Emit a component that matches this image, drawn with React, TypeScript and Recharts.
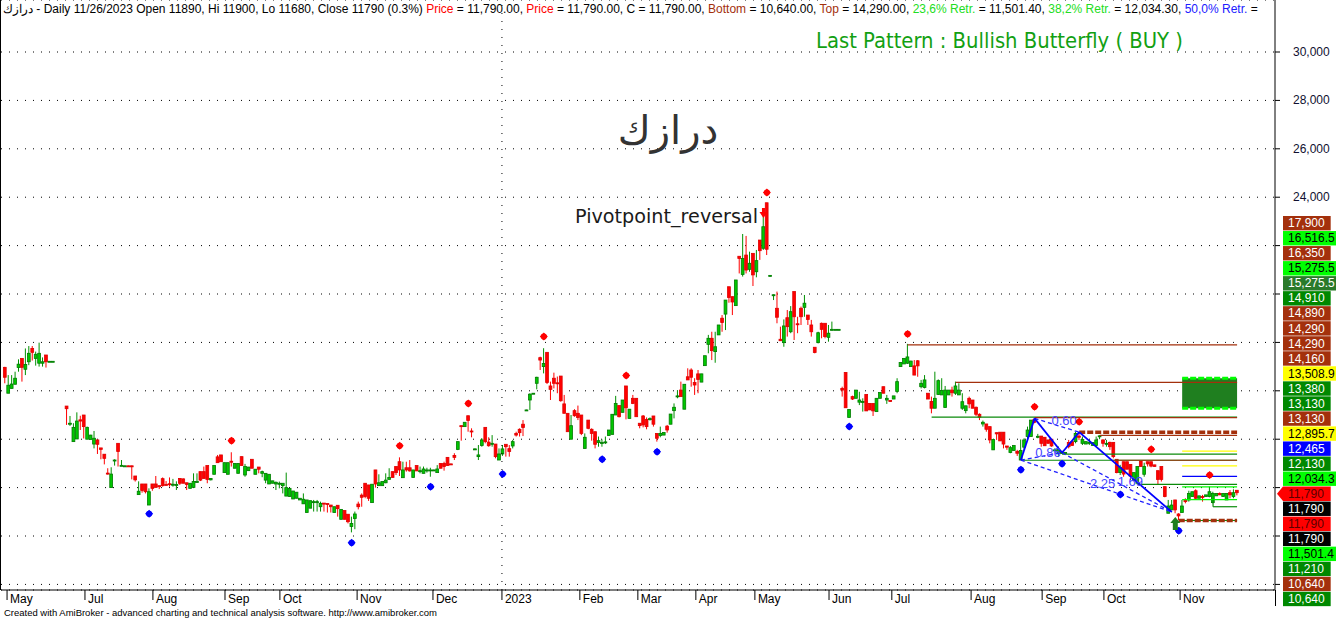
import React from "react";
import {
  ComposedChart,
  Bar,
  Scatter,
  XAxis,
  YAxis,
  CartesianGrid,
  ReferenceLine,
  ReferenceArea,
  ReferenceDot,
} from "recharts";

const W = 1336;
const H = 619;

// daily candles [open, high, low, close]; null = no trading that day
const barsPart1 = [
  [16970, 16990, 16310, 16560], [15900, 16650, 15900, 16230], [16100, 16650, 16100, 16280],
  [16270, 16790, 16270, 16520], [16960, 17300, 16790, 17100], [17340, 17340, 16380, 16970],
  [16890, 17750, 16650, 17090], [17200, 17850, 17060, 17550], [17750, 17850, 17250, 17590],
  [17340, 17620, 17040, 17510], [17140, 17990, 17000, 17550], [17140, 17380, 17000, 17200],
  [17480, 17480, 16960, 17200], [17210, 17230, 17200, 17220], [17210, 17230, 17200, 17220],
  null, null, null,
];

const barsPart2 = [
  [15370, 15370, 14590, 15260], [14620, 14960, 14550, 14660], [13900, 14660, 13900, 14490],
  [14010, 15110, 14010, 14750], [14800, 14970, 14380, 14750], [15000, 15000, 14030, 14520],
  [14000, 14520, 14000, 14490], [13990, 14180, 13990, 14170], [13800, 14340, 13620, 14040],
  [13970, 13970, 13390, 13790], [13640, 13640, 13170, 13580], [13380, 13380, 12960, 13210],
  [12600, 12800, 12540, 12560], [12000, 12840, 12000, 12560], [13110, 13170, 12910, 13140],
  [13830, 13830, 12870, 13490], [12900, 13140, 12900, 12920], [12890, 12910, 12870, 12900],
  [12900, 12910, 12880, 12890], [12900, 12910, 12340, 12880], [12480, 12480, 12250, 12320],
  [11710, 12260, 11710, 11850], [12150, 12150, 11790, 11880], [12150, 12150, 11760, 11830],
  [11280, 11970, 11280, 11830], [12150, 12150, 11870, 11970], [12150, 12480, 12010, 12010],
  [12080, 12080, 11940, 12040], [12370, 12420, 12040, 12080], [12130, 12270, 12110, 12120],
  [12160, 12420, 12040, 12150], [12130, 12360, 12040, 12140], [12110, 12260, 11900, 12130],
  [12380, 12380, 12110, 12180], [12360, 12380, 12180, 12180], [12200, 12200, 11900, 12130],
  [11970, 12180, 11970, 12180], [12010, 12590, 12010, 12250], [12210, 12590, 12210, 12250],
  [12660, 12660, 12270, 12310], [12660, 12870, 12380, 12380], [12910, 12910, 12180, 12340],
  [12320, 12390, 12300, 12380], [12550, 12910, 12550, 12910], [13270, 13350, 13030, 13030],
  [13350, 13350, 13070, 13070], [12620, 13030, 12620, 13030], [12550, 13030, 12550, 13030],
  [13090, 13460, 12870, 13070], [12800, 13000, 12800, 13000], [12590, 13000, 12590, 13000],
  [13280, 13280, 12910, 12910], [12520, 12980, 12450, 12870], [12700, 12850, 12700, 12850],
  [13170, 13170, 12800, 12800], [12550, 12760, 12550, 12760], [12850, 12850, 12590, 12760],
  [12590, 12700, 12430, 12660], [12310, 12590, 12180, 12590], [12150, 12550, 12150, 12550],
  [12180, 12280, 12180, 12280], [12150, 12250, 11900, 12220], [12170, 12250, 11970, 12180],
  [12080, 12180, 11760, 12180], [11650, 12620, 11650, 12000], [11630, 11970, 11630, 11970],
  [11530, 11860, 11530, 11860], [11560, 11810, 11560, 11810], [11490, 11560, 11490, 11560],
  [11330, 11760, 11330, 11520], [10970, 11490, 10970, 11490], [11150, 11460, 11150, 11460],
  [11410, 11490, 11010, 11420], [11400, 11490, 11010, 11420], [11210, 11420, 11010, 11350],
  [11360, 11360, 11010, 11350], [11340, 11340, 10970, 11320], [11280, 11280, 10970, 11210],
  [10970, 11210, 10970, 11210], [11270, 11270, 10800, 11130], [10690, 11100, 10690, 11100],
  [11050, 11050, 10690, 10690], [10900, 10900, 10520, 10590], [10390, 10800, 10150, 10520],
  [10720, 11010, 10280, 10910], [11320, 11420, 11100, 11210], [11690, 11760, 11210, 11600],
  [12180, 12180, 11560, 11630], [12110, 12110, 11450, 11560], [11380, 12140, 11380, 12140],
  [12730, 12730, 12000, 12150], [12080, 12550, 12080, 12200], [12080, 12250, 12080, 12250],
  [12200, 12590, 12180, 12310], [12340, 12800, 12340, 12420], [12660, 12660, 12420, 12420],
  [12870, 12870, 12520, 12620], [13070, 13250, 12480, 12730], [12410, 13070, 12410, 12730],
  [12820, 13070, 12660, 12730], [12820, 13140, 12660, 12690], [12420, 12730, 12420, 12730],
  [12910, 12910, 12690, 12690], [12690, 12870, 12590, 12700], [12590, 12870, 12590, 12770],
  [12720, 12820, 12620, 12730], [12720, 12820, 12450, 12730], [12720, 12740, 12720, 12730],
  [12620, 12930, 12620, 12770], [13000, 13000, 12800, 12800], [13000, 13070, 12700, 12870],
  [13250, 13250, 12910, 12910], [12980, 12990, 12970, 12970],
];

const barsPart3 = [
  [13330, 13420, 13140, 13250], [13580, 13900, 13550, 13900], [14560, 14560, 13940, 14520],
  [14520, 14700, 14520, 14700], [14970, 14970, 14310, 14770], [14340, 14450, 14080, 14310],
  [13580, 13620, 13560, 13600], [13280, 13760, 13140, 13350], [13740, 14040, 13690, 13970],
  [14490, 14490, 13830, 13900], [13880, 14080, 13690, 13730], [13800, 14170, 13690, 13830],
  [13800, 13800, 13210, 13280], [13140, 13620, 13140, 13390], [13390, 13760, 13310, 13600],
  [13790, 13790, 13280, 13690], [13610, 13760, 13280, 13490], [13720, 13970, 13620, 13900],
  [14240, 14310, 14110, 14170], [14410, 14450, 14110, 14270], [14620, 14790, 14130, 14480],
  [15190, 15220, 15170, 15210], [15620, 15900, 15210, 15860], [15880, 15900, 15880, 15900],
  [16310, 16580, 16060, 16560], [17370, 17410, 16860, 17270], [17000, 17760, 16720, 17130],
  [17590, 17590, 16280, 16340], [16200, 16380, 15620, 16060], [16520, 16750, 16100, 16310],
  [16330, 16590, 15900, 16310], [16610, 16610, 15550, 15590], [15460, 15830, 15070, 15070],
  [15070, 15070, 14310, 14310], [14000, 15000, 14000, 14560], [15180, 15240, 14930, 14970],
  [15070, 15390, 14790, 14900], [15000, 15000, 14170, 14240], [13620, 14240, 13620, 14080],
  [14790, 14790, 14410, 14450], [14410, 14450, 13940, 14240], [14310, 14310, 13620, 13790],
  [13860, 14110, 13690, 13940], [13840, 13990, 13690, 13860], [13880, 14110, 13800, 13890],
  [14150, 14380, 14150, 14380], [14200, 15030, 14200, 15030], [15000, 15790, 15000, 15480],
  [15390, 15390, 14900, 14930], [15110, 15620, 15110, 15620], [16200, 16200, 14820, 15300],
  [14860, 15240, 14860, 15240], [15690, 15830, 15450, 15480], [15690, 15690, 14930, 14930],
  [14660, 14660, 14450, 14560], [14960, 15000, 14490, 14590], [14820, 14900, 14410, 14520],
  [14830, 14900, 14770, 14850], [14960, 14960, 14520, 14620], [14240, 14240, 13900, 14040],
  [14150, 14520, 14080, 14240], [14170, 14280, 14170, 14280], [14540, 14590, 14270, 14380],
  [14620, 15040, 14620, 15040], [15180, 15480, 14860, 15320], [15770, 16030, 15690, 15790],
  [16030, 16380, 15760, 15760], [15240, 16270, 15240, 16270], [16580, 16930, 16450, 16450],
  [16860, 16930, 16170, 16560], [16340, 16520, 15830, 16240], [16700, 16860, 15900, 16470],
  [16360, 16700, 16360, 16700], [17040, 17450, 17040, 17450], [17920, 18310, 17550, 18170],
  [18170, 18440, 17270, 17660], [17620, 18440, 17160, 17820], [18310, 18720, 18310, 18720],
  [19000, 19130, 18440, 18820], [19170, 19750, 18510, 19750], [20300, 20300, 19640, 19860],
  [19890, 19890, 19130, 19670], [19520, 20580, 19520, 20580], [21560, 21560, 20850, 21470],
  [20810, 22480, 20720, 21470], [21610, 22400, 20850, 20990], [21020, 21750, 20920, 21270],
  [21680, 21680, 20330, 20790], [20920, 21820, 20690, 21380], [22230, 22230, 21410, 21790],
  [21890, 23260, 21820, 22780], [23770, 23770, 21610, 21850], [20760, 20780, 20740, 20770],
  [19960, 19980, 19750, 19970], [19410, 20100, 18790, 19040], [18130, 18650, 18070, 18070],
  [17990, 18950, 17820, 18680], [19020, 19340, 18240, 18650], [18440, 19500, 18380, 19270],
  [20100, 20100, 18100, 19060], [18770, 19060, 18380, 18750], [19410, 19480, 18720, 19060],
  [19450, 19960, 19060, 19620], [19130, 19130, 18720, 18950], [18720, 18930, 18240, 18440],
  [17800, 17800, 17550, 17580], [17990, 18440, 17960, 18400], [18790, 18820, 18170, 18540],
  [18790, 18790, 18170, 18240], [18210, 18720, 18030, 18380], [18520, 18860, 18500, 18540],
  [18540, 18550, 18530, 18540], [18540, 18550, 18530, 18540],
];

const barsPart4 = [
  [16100, 16170, 15760, 16030], [16760, 16760, 15300, 15300], [14900, 15240, 14900, 15230],
  [15760, 15800, 15620, 15660], [15690, 16030, 15690, 16030], [15530, 15960, 15410, 15620],
  [15540, 15690, 15140, 15560], [15850, 15850, 15170, 15170], [15480, 15480, 15210, 15210],
  [15480, 15480, 14960, 15170], [15140, 15690, 15140, 15690], [15690, 15930, 15690, 15930],
  [16170, 16170, 15900, 15900], [15620, 15830, 15460, 15690], [15600, 15600, 15550, 15560],
  [15660, 15790, 15660, 15790], [15970, 16520, 15900, 16380], [17000, 17170, 17000, 17170],
  [17110, 17340, 17110, 17340], [17140, 17940, 17110, 17400], [17000, 17240, 17000, 17230],
  [17030, 17270, 16650, 16650], [17240, 17270, 16580, 17030], [16170, 16450, 16100, 16310],
  [16140, 16650, 16100, 16450], [15900, 15900, 15660, 15660], [15560, 15760, 15070, 15280],
  [15280, 16790, 15280, 15690], [15850, 16470, 15830, 16420], [15830, 16520, 15830, 16010],
  [15310, 16200, 15310, 16030], [15830, 16030, 15830, 16030], [16030, 16170, 15760, 15920],
  [15900, 16380, 15830, 16200], [15830, 16310, 15830, 16030], [15280, 15900, 15210, 15550],
  [15180, 15380, 15070, 15380], [15690, 15760, 15280, 15460], [15620, 15620, 15280, 15280],
  [15320, 15350, 14960, 15030], [15030, 15070, 14790, 14910], [14630, 14770, 14520, 14700],
  [14630, 14630, 14310, 14410], [14520, 14520, 13830, 13970], [13560, 13990, 13560, 13990],
  [14270, 14270, 13970, 14220], [14290, 14290, 13930, 13930], [14290, 14290, 13620, 13800],
  [13720, 13720, 13560, 13670], [13450, 13720, 13420, 13650], [13530, 13740, 13530, 13740],
  [13490, 13560, 13310, 13420], [13140, 13990, 13140, 13530], [13670, 14040, 13560, 13970],
  [14110, 14520, 14000, 14380], [14110, 14790, 14110, 14790], [14820, 14860, 14660, 14700],
  [14100, 14220, 14040, 14120], [14130, 14130, 13690, 13830], [14080, 14080, 13730, 13730],
  [13970, 13970, 13830, 13830], [14000, 14000, 13690, 13720], [13550, 13630, 13490, 13560],
  [13420, 13700, 13280, 13580], [13440, 13530, 13420, 13450], [13440, 13460, 13440, 13450],
  [13860, 13970, 13620, 13690], [13900, 13900, 13740, 13740], [13900, 14310, 13830, 14240],
  [14130, 14220, 13970, 14080], [13830, 14110, 13760, 13990], [13800, 13900, 13800, 13900],
  [13830, 13970, 13760, 13870], [13740, 13860, 13740, 13860], [13740, 14110, 13690, 13970],
  [14120, 14160, 14000, 14140], [13970, 13990, 13690, 13830], [13810, 13970, 13690, 13830],
  [13870, 13900, 13560, 13690], [13870, 13870, 13210, 13280], [13170, 13170, 12590, 12620],
  [12620, 12940, 12520, 12840], [13070, 13070, 12450, 12560], [13070, 13070, 12760, 12760],
  [12960, 12960, 12320, 12480], [12290, 12620, 12290, 12620], [12180, 12870, 12180, 12870],
  [13100, 13100, 12870, 12870], [12550, 13030, 12450, 12870], [13070, 13070, 12870, 12980],
  [13070, 13070, 12840, 12890], [12940, 12940, 12870, 12870], [12700, 12700, 12110, 12340],
  [12870, 12870, 12250, 12340], [12040, 12040, 11600, 11630], [10940, 11490, 10940, 11240],
  [11080, 11490, 11080, 11280], [11490, 11490, 10940, 11080], [10910, 10940, 10660, 10830],
  [10970, 11490, 10970, 11240], [11490, 11560, 11350, 11420], [11490, 11870, 11420, 11760],
  [11630, 11830, 11630, 11830], [11870, 11930, 11490, 11560], [11560, 11660, 11560, 11660],
  [11630, 11700, 11420, 11600], [11630, 11700, 11630, 11700], [11630, 12040, 11600, 11830],
  [11380, 11830, 11350, 11760], [11660, 11760, 11660, 11760], [11760, 11800, 11690, 11700],
  [11630, 11760, 11630, 11760], [11490, 11760, 11490, 11760], [11790, 11900, 11560, 11700],
  [11630, 11930, 11560, 11790], [11890, 11900, 11680, 11790],
];

const monthTickPos = [0.6, 23.3, 43.1, 64.1, 80.1, 102.6, 124.7, 144.8, 167.5, 184.4, 201.3, 218.5, 240.1, 258.4, 281.5, 302.2, 320.2, 342.4];
const monthTickLabels = ["May", "Jul", "Aug", "Sep", "Oct", "Nov", "Dec", "2023", "Feb", "Mar", "Apr", "May", "Jun", "Jul", "Aug", "Sep", "Oct", "Nov"];
const yearBreak = 144.8;

const priceTicks = [8000, 10000, 12000, 14000, 16000, 18000, 20000, 22000, 24000, 26000, 28000, 30000];
// the lower tick labels sit behind the level boxes in the reference
const firstShownTick = 24000;

const pivotHighs = [
  { i: 66, p: 13940 }, { i: 115, p: 13730 }, { i: 135, p: 15480 }, { i: 157, p: 18240 },
  { i: 181, p: 16630 }, { i: 222, p: 24190 }, { i: 263, p: 18350 }, { i: 300, p: 15340 },
  { i: 313, p: 14720 }, { i: 334, p: 13580 }, { i: 351, p: 12520 },
];
const pivotLows = [
  { i: 42, p: 10920 }, { i: 101, p: 9720 }, { i: 124, p: 12040 }, { i: 145, p: 12560 },
  { i: 174, p: 13170 }, { i: 190, p: 13480 }, { i: 246, p: 14520 }, { i: 296, p: 12740 },
  { i: 308, p: 12990 }, { i: 325, p: 11720 }, { i: 342, p: 10220 },
];
const sellSignal = [{ i: 221, p: 23350 }];
const buySignal = [{ i: 341, p: 10500 }];

// butterfly X, A, B, C, D
const patternIdx = [296, 300, 308, 313, 340];
const patternPrice = [13140, 14860, 13440, 14290, 10990];
const ratioLabels = ["0.60", "0.86", "2.25", "1.69"];
const ratioIdx = [308.6, 303.9, 319.8, 327.9];
const ratioPrice = [14790, 13470, 12190, 12270];

const BROWN = "#a3300c";
const GREEN = "#0a8a0a";
const LIME = "#00ff00";
const YELLOW = "#ffff00";
const BLUE = "#0000ff";

const levelPrice = [17900, 16350, 14910, 14890, 14290, 14160, 13508.9, 13380, 13130, 13130, 12895.7, 12465, 12130, 12034.3, 11501.4, 11210, 10640, 10640];
const levelFrom = [263, 277, 270, 300, 313, 319, 343, 308, 296, 323, 343, 343, 330, 343, 343, 352, 342, 342];
const levelColor = [BROWN, BROWN, GREEN, BROWN, BROWN, BROWN, YELLOW, GREEN, GREEN, BROWN, YELLOW, BLUE, GREEN, LIME, LIME, GREEN, GREEN, BROWN];
const levelEnd = 359;
const zoneTop = 16516.5;
const zoneBottom = 15275.5;

const sideLabels = [
  "17,900", "16,516.5", "16,350", "15,275.5", "15,275.5", "14,910", "14,890", "14,290", "14,290",
  "14,160", "13,508.9", "13,380", "13,130", "13,130", "12,895.7", "12,465", "12,130", "12,034.3",
  "11,790", "11,790", "11,790", "11,790", "11,501.4", "11,210", "10,640", "10,640",
];
const sideBg = [
  BROWN, LIME, BROWN, LIME, "#2a7a2a", "#008800", BROWN, BROWN, BROWN, BROWN, YELLOW, "#008800",
  "#008800", BROWN, YELLOW, BLUE, "#008800", LIME, "#ff0000", "#000", "#ff0000", "#000", LIME,
  "#008800", BROWN, "#008800",
];

const allBars = [...barsPart1, ...barsPart2, ...barsPart3, ...barsPart4];
const rows = allBars.map((b, i) =>
  b ? { i, o: b[0], h: b[1], l: b[2], c: b[3], range: [b[2], b[1]] } : { i, range: null }
);

function Candle(props: any) {
  const { x, y, width, height, payload } = props;
  if (!payload || payload.o == null || !isFinite(y) || !isFinite(height)) return null;
  const cx = x + width / 2;
  const top = Math.min(y, y + height);
  const bot = Math.max(y, y + height);
  const k = (bot - top) / (payload.h - payload.l || 1);
  const up = payload.c >= payload.o;
  const yO = top + (payload.h - payload.o) * k;
  const yC = top + (payload.h - payload.c) * k;
  const bTop = Math.min(yO, yC);
  const bH = Math.max(Math.abs(yO - yC), 1);
  return (
    <g>
      <line x1={cx} x2={cx} y1={top} y2={bot} stroke={up ? "#009000" : "#ff0000"} strokeWidth={1} />
      <rect x={cx - 1.4} y={bTop} width={2.8} height={bH} fill={up ? "#00c800" : "#ff0000"} stroke={up ? "#007a00" : "#e00000"} strokeWidth={0.8} />
    </g>
  );
}

const pivotShape = (color: string) => (props: any) => {
  const { cx, cy } = props;
  return (
    <g>
      <path d={`M${cx},${cy - 4} L${cx + 4},${cy} L${cx},${cy + 4} L${cx - 4},${cy} Z`} fill={color} />
      <circle cx={cx} cy={cy} r={3.1} fill={color} />
    </g>
  );
};

function SellArrow(props: any) {
  const { cx, cy } = props;
  return <path d={`M${cx - 1.5},${cy - 5} h3 v4 h2.5 L${cx},${cy + 5} L${cx - 4},${cy - 1} h2.5 Z`} fill="#ff0000" />;
}

function BuyArrow(props: any) {
  const { cx, cy } = props;
  return <path d={`M${cx},${cy - 7} L${cx + 5},${cy - 1} h-2.5 v7 h-5 v-7 h-2.5 Z`} fill="#1e7e1e" />;
}

function MonthTick(props: any) {
  const { x, y, payload } = props;
  const k = monthTickPos.indexOf(payload.value);
  return (
    <g>
      <line x1={x} x2={x} y1={y} y2={y + 10} stroke="#000" />
      <text x={x + 3} y={y + 13} fontSize={12} fontFamily="Liberation Sans, Arial, sans-serif" fill="#000">
        {monthTickLabels[k]}
      </text>
    </g>
  );
}

function PriceTick(props: any) {
  const { x, y, payload } = props;
  if (payload.value < firstShownTick) return <g />;
  return (
    <text x={x + 13} y={y + 4} fontSize={12} fontFamily="Liberation Sans, Arial, sans-serif" fill="#101030">
      {payload.value.toLocaleString("en-US")}
    </text>
  );
}

function textWidth(s: string) {
  let w = 0;
  for (const ch of s) w += ch === "," || ch === "." ? 3.33 : 6.67;
  return w;
}

function SideLabels() {
  return (
    <g fontFamily="Liberation Sans, Arial, sans-serif" fontSize={12}>
      {sideLabels.map((t, k) => {
        const top = 216 + k * 15.03;
        const bg = sideBg[k];
        const dark = bg !== LIME && bg !== YELLOW;
        const w = textWidth(t) + 11;
        return (
          <g key={k}>
            {k === 18 ? (
              <path d={`M1277,${top + 7.2} L1283,${top} h${w} v14.4 h-${w} Z`} fill={bg} />
            ) : (
              <rect x={1283} y={top} width={w} height={14.4} fill={bg} />
            )}
            <text x={1288} y={top + 11.3} fill={dark ? (bg === "#ff0000" ? "#5a0000" : "#fff") : "#000"}>
              {t}
            </text>
          </g>
        );
      })}
    </g>
  );
}

export default function App() {
  const px = patternIdx;
  const pp = patternPrice;
  const solid = [0, 1, 2, 3].map((k) => [k, k + 1]);
  const dashed = [[1, 3], [0, 2], [0, 4], [2, 4]];
  return (
    <div style={{ position: "absolute", left: 0, top: 0, width: W, height: H, background: "#fff" }}>
      <ComposedChart width={W} height={H} data={rows} margin={{ top: 0, right: 0, bottom: 0, left: 1 }}>
        <CartesianGrid vertical={false} stroke="#000" strokeDasharray="1 7" />
        <XAxis
          dataKey="i"
          type="number"
          domain={[-1.166, 370.05]}
          allowDataOverflow
          ticks={monthTickPos}
          interval={0}
          tick={<MonthTick />}
          tickLine={false}
          tickSize={0}
          tickMargin={0}
          axisLine={{ stroke: "#000" }}
          height={29}
        />
        <YAxis
          orientation="right"
          type="number"
          domain={[7769, 32149]}
          allowDataOverflow
          ticks={priceTicks}
          interval={0}
          tick={<PriceTick />}
          tickLine={{ stroke: "#000" }}
          tickSize={5}
          tickMargin={0}
          axisLine={{ stroke: "#000" }}
          width={61}
        />
        <ReferenceLine x={yearBreak} stroke="#000" strokeDasharray="1 7" />
        <ReferenceArea x1={343} x2={levelEnd} y1={zoneBottom} y2={zoneTop} fill="#1f7f1f" fillOpacity={1} stroke="none" />
        <ReferenceLine segment={[{ x: 343, y: zoneTop }, { x: levelEnd, y: zoneTop }]} stroke={LIME} strokeWidth={3} strokeDasharray="6 2" />
        <ReferenceLine segment={[{ x: 343, y: zoneBottom }, { x: levelEnd, y: zoneBottom }]} stroke={LIME} strokeWidth={3} strokeDasharray="6 2" />
        {levelPrice.map((p, k) => {
          const thick = p === 14290 || (p === 10640 && levelColor[k] === BROWN);
          return (
            <ReferenceLine
              key={`lv${k}`}
              segment={[{ x: levelFrom[k], y: p }, { x: levelEnd, y: p }]}
              stroke={levelColor[k]}
              strokeWidth={thick ? 3.5 : 1.2}
              strokeDasharray={thick ? "6 2" : undefined}
            />
          );
        })}
        <ReferenceLine segment={[{ x: 352, y: 11501.4 }, { x: 352, y: 11210 }]} stroke={GREEN} strokeWidth={1.2} />
        <Bar dataKey="range" barSize={3} shape={Candle} isAnimationActive={false} />
        {dashed.map(([a, b], k) => (
          <ReferenceLine
            key={`hd${k}`}
            segment={[{ x: px[a], y: pp[a] }, { x: px[b], y: pp[b] }]}
            stroke="#2020ff"
            strokeWidth={1.3}
            strokeDasharray="4 3"
          />
        ))}
        {solid.map(([a, b], k) => (
          <ReferenceLine key={`hs${k}`} segment={[{ x: px[a], y: pp[a] }, { x: px[b], y: pp[b] }]} stroke="#0000ff" strokeWidth={1.8} />
        ))}
        {ratioLabels.map((t, k) => (
          <ReferenceDot
            key={`rl${k}`}
            x={ratioIdx[k]}
            y={ratioPrice[k]}
            r={1}
            fill="none"
            stroke="none"
            label={{ value: t, position: "center", fill: "#4646ff", fontSize: 13, fontFamily: "Liberation Sans, Arial, sans-serif" }}
          />
        ))}
        <Scatter data={pivotHighs} dataKey="p" shape={pivotShape("#ff0000")} isAnimationActive={false} />
        <Scatter data={pivotLows} dataKey="p" shape={pivotShape("#0000ff")} isAnimationActive={false} />
        <Scatter data={sellSignal} dataKey="p" shape={SellArrow} isAnimationActive={false} />
        <Scatter data={buySignal} dataKey="p" shape={BuyArrow} isAnimationActive={false} />
      </ComposedChart>
      <svg width={W} height={H} style={{ position: "absolute", left: 0, top: 0, pointerEvents: "none" }}>
        <line x1={0.5} x2={0.5} y1={0} y2={590} stroke="#000" />
        <line x1={1275.5} x2={1275.5} y1={590} y2={606} stroke="#000" />
        <text x={3} y={13} fontFamily="Liberation Sans, Arial, sans-serif" fontSize={12} fill="#000">
          <tspan>درازك - Daily 11/26/2023 Open 11890, Hi 11900, Lo 11680, Close 11790 (0.3%) </tspan>
          <tspan fill="#ff0000">Price</tspan>
          <tspan> = 11,790.00, </tspan>
          <tspan fill="#ff0000">Price</tspan>
          <tspan> = 11,790.00, C = 11,790.00, </tspan>
          <tspan fill={BROWN}>Bottom</tspan>
          <tspan> = 10,640.00, </tspan>
          <tspan fill={BROWN}>Top</tspan>
          <tspan> = 14,290.00, </tspan>
          <tspan fill="#22dd22">23,6% Retr.</tspan>
          <tspan> = 11,501.40, </tspan>
          <tspan fill="#22dd22">38,2% Retr.</tspan>
          <tspan> = 12,034.30, </tspan>
          <tspan fill="#2020ff">50,0% Retr.</tspan>
          <tspan> =</tspan>
        </text>
        <text x={816} y={48} fontFamily="DejaVu Sans Condensed, DejaVu Sans, sans-serif" fontSize={21} fill="#12a012" textLength={367} lengthAdjust="spacingAndGlyphs">
          Last Pattern : Bullish Butterfly ( BUY )
        </text>
        <text x={668} y={144} textAnchor="middle" fontFamily="DejaVu Sans, sans-serif" fontSize={40} fill="#333">
          درازك
        </text>
        <text x={575} y={223} fontFamily="DejaVu Sans, sans-serif" fontSize={20} fill="#1a1a1a" textLength={183} lengthAdjust="spacingAndGlyphs">
          Pivotpoint_reversal
        </text>
        <text x={4} y={616} fontFamily="Liberation Sans, Arial, sans-serif" fontSize={9.5} fill="#000" textLength={433} lengthAdjust="spacingAndGlyphs">
          Created with AmiBroker - advanced charting and technical analysis software. http://www.amibroker.com
        </text>
        <SideLabels />
      </svg>
    </div>
  );
}
